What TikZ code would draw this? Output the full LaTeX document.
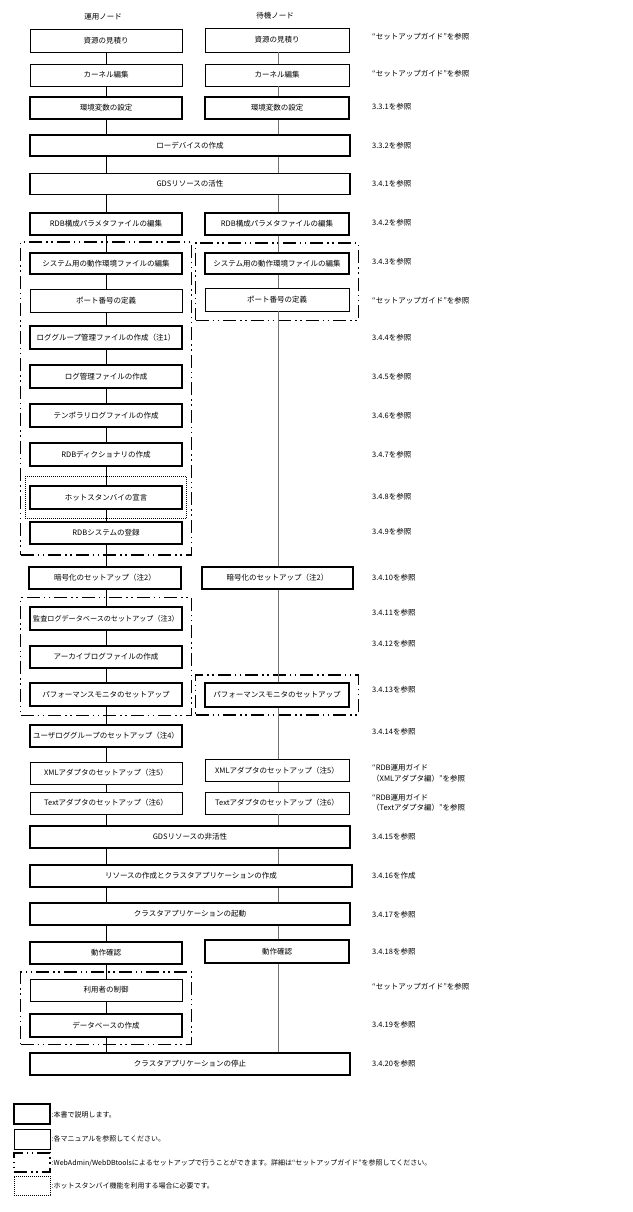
\documentclass[tikz,border=0pt]{standalone}
\usepackage{fontspec}
\setmainfont{Noto Sans CJK JP}
\usetikzlibrary{fit}
\begin{document}
\begin{tikzpicture}[x=1pt,y=-1pt,
  bx/.style={draw, fill=white, inner sep=0pt, minimum height=22pt,
    font=\fontsize{7.5}{9}\selectfont},
  tn/.style={bx, line width=0.8pt},
  tk/.style={bx, line width=1.6pt},
  lw/.style={minimum width=152pt},
  rw/.style={minimum width=144pt},
  ww/.style={minimum width=320pt},
  grp/.style={draw, line width=1.5pt, inner sep=0pt,
    dash pattern=on 13pt off 4pt on 1.5pt off 3.5pt on 1.5pt off 4pt},
  hsg/.style={draw, line width=0.8pt, inner sep=0pt, dash pattern=on 0.8pt off 1.2pt},
  lbl/.style={anchor=west, inner sep=0pt, font=\fontsize{7.5}{10.5}\selectfont, align=left},
  hdr/.style={inner sep=0pt, font=\fontsize{7.5}{9}\selectfont},
  lgt/.style={anchor=west, inner sep=0pt, font=\fontsize{7}{9}\selectfont},
  conn/.style={line width=0.8pt, black},
  connR/.style={line width=0.8pt, black!55},
]
\fill[white] (0,0) rectangle (632,1212);
\useasboundingbox (0,0) rectangle (632,1212);

\coordinate (colL) at (106,0);
\coordinate (colR) at (278,0);

% headers
\node[hdr] (hL) at (103,17) {運用ノード};
\node[hdr] (hR) at (275,16) {待機ノード};

% boxes
\node[tn, lw, minimum height=23pt] (srcL) at (106,40.5) {資源の見積り};
\node[tn, rw, minimum height=24pt] (srcR) at (277,40) {資源の見積り};
\node[tn, lw] (kerL) at (106,75) {カーネル編集};
\node[tn, rw] (kerR) at (277,75) {カーネル編集};
\node[tk, lw] (envL) at (106,108) {環境変数の設定};
\node[tk, rw] (envR) at (277,108) {環境変数の設定};
\node[tk, ww, minimum height=21pt] (raw) at (190,145.5) {ローデバイスの作成};
\node[tk, ww, minimum height=21pt] (gds) at (190,184) {GDSリソースの活性};
\node[tk, lw] (rdbL) at (106,224) {RDB構成パラメタファイルの編集};
\node[tk, rw] (rdbR) at (277,224) {RDB構成パラメタファイルの編集};
\node[tk, lw, minimum height=21pt] (sysL) at (106,263.5) {システム用の動作環境ファイルの編集};
\node[tk, rw, minimum height=21pt] (sysR) at (277,263.5) {システム用の動作環境ファイルの編集};
\node[tn, lw, minimum height=23pt] (portL) at (106,300.5) {ポート番号の定義};
\node[tn, rw, minimum height=23pt] (portR) at (277,299.5) {ポート番号の定義};
\node[tk, lw, minimum height=23pt] (lg) at (106,337.5) {ロググループ管理ファイルの作成（注1）};
\node[tk, lw, minimum height=23pt] (lm) at (106,376.5) {ログ管理ファイルの作成};
\node[tk, lw, minimum height=23pt] (tmp) at (106,415.5) {テンポラリログファイルの作成};
\node[tk, lw, minimum height=23pt] (dic) at (106,454.5) {RDBディクショナリの作成};
\node[tk, lw, minimum height=23pt] (hot) at (106,497.5) {ホットスタンバイの宣言};
\node[tk, lw] (rdbs) at (106,533) {RDBシステムの登録};
\node[tk, lw] (encL) at (105,578) {暗号化のセットアップ（注2）};
\node[tk, minimum width=151pt] (encR) at (277.5,578) {暗号化のセットアップ（注2）};
\node[tk, lw, minimum height=23pt, font=\fontsize{7.1}{9}\selectfont] (aud) at (106,618.5) {監査ログデータベースのセットアップ（注3）};
\node[tk, lw] (arc) at (106,657) {アーカイブログファイルの作成};
\node[tk, lw, minimum height=23pt] (perfL) at (106,694.5) {パフォーマンスモニタのセットアップ};
\node[tk, rw, minimum height=24pt] (perfR) at (277,695) {パフォーマンスモニタのセットアップ};
\node[tk, lw] (usr) at (106,736) {ユーザロググループのセットアップ（注4）};
\node[tn, lw] (xmlL) at (106,773) {XMLアダプタのセットアップ（注5）};
\node[tn, rw] (xmlR) at (277,770.5) {XMLアダプタのセットアップ（注5）};
\node[tn, lw] (txtL) at (106,803) {Textアダプタのセットアップ（注6）};
\node[tn, rw] (txtR) at (277,803) {Textアダプタのセットアップ（注6）};
\node[tk, ww] (gdsoff) at (190,837) {GDSリソースの非活性};
\node[tk, minimum width=322pt] (res) at (191,876) {リソースの作成とクラスタアプリケーションの作成};
\node[tk, ww] (start) at (190,914) {クラスタアプリケーションの起動};
\node[tk, lw] (chkL) at (106,953) {動作確認};
\node[tk, rw, minimum height=23pt] (chkR) at (277,951.5) {動作確認};
\node[tn, lw] (user) at (106,990) {利用者の制御};
\node[tk, lw, minimum height=23pt] (db) at (106,1025.5) {データベースの作成};
\node[tk, ww] (stop) at (190,1064) {クラスタアプリケーションの停止};

% groups
\node[grp, fit=(sysL)(rdbs), inner xsep=8.5pt, inner ysep=10pt] (g1) {};
\node[grp, fit=(sysR)(portR), inner xsep=8.5pt, inner ysep=9pt] (g2) {};
\node[hsg, fit=(hot), inner xsep=4pt, inner ysep=8.5pt] (g0) {};
\node[grp, fit=(aud)(perfL), inner xsep=8.5pt, inner ysep=8.5pt] (g3) {};
\node[grp, fit=(perfR), inner xsep=8.5pt, inner ysep=7pt] (g4) {};
\node[grp, fit=(user)(db), inner xsep=8.5pt, inner ysep=6.5pt] (g5) {};

% connectors
\foreach \a/\b in {srcL/kerL, kerL/envL, envL/raw, raw/gds, gds/rdbL, rdbL/sysL,
  sysL/portL, portL/lg, lg/lm, lm/tmp, tmp/dic, dic/hot, hot/rdbs, rdbs/encL,
  encL/aud, aud/arc, arc/perfL, perfL/usr, usr/xmlL, xmlL/txtL, txtL/gdsoff,
  gdsoff/res, res/start, start/chkL, chkL/user, user/db, db/stop}
  \draw[conn] (\a.south -| colL) -- (\b.north -| colL);
\foreach \a/\b in {srcR/kerR, kerR/envR, envR/raw, raw/gds, gds/rdbR, rdbR/sysR,
  sysR/portR, portR/encR, encR/perfR, perfR/xmlR, xmlR/txtR, txtR/gdsoff,
  gdsoff/res, res/start, start/chkR, chkR/stop}
  \draw[connR] (\a.south -| colR) -- (\b.north -| colR);

% reference labels
\node[lbl] (r1) at (372,37) {“セットアップガイド”を参照};
\node[lbl] (r2) at (372,74) {“セットアップガイド”を参照};
\node[lbl] (r3) at (372,107) {3.3.1を参照};
\node[lbl] (r4) at (372,145.5) {3.3.2を参照};
\node[lbl] (r5) at (372,184) {3.4.1を参照};
\node[lbl] (r6) at (372,223) {3.4.2を参照};
\node[lbl] (r7) at (372,262) {3.4.3を参照};
\node[lbl] (r8) at (372,300.5) {“セットアップガイド”を参照};
\node[lbl] (r9) at (372,338) {3.4.4を参照};
\node[lbl] (r10) at (372,377) {3.4.5を参照};
\node[lbl] (r11) at (372,415.5) {3.4.6を参照};
\node[lbl] (r12) at (372,455) {3.4.7を参照};
\node[lbl] (r13) at (372,497) {3.4.8を参照};
\node[lbl] (r14) at (372,531.5) {3.4.9を参照};
\node[lbl] (r15) at (372,577.5) {3.4.10を参照};
\node[lbl] (r16) at (372,612.5) {3.4.11を参照};
\node[lbl] (r17) at (372,643.5) {3.4.12を参照};
\node[lbl] (r18) at (372,690) {3.4.13を参照};
\node[lbl] (r19) at (372,731.5) {3.4.14を参照};
\node[lbl] (r20) at (372,773.5) {“RDB運用ガイド\\（XMLアダプタ編）”を参照};
\node[lbl] (r21) at (372,803) {“RDB運用ガイド\\（Textアダプタ編）”を参照};
\node[lbl] (r22) at (372,836.5) {3.4.15を参照};
\node[lbl] (r23) at (372,875.5) {3.4.16を作成};
\node[lbl] (r24) at (372,914.5) {3.4.17を参照};
\node[lbl] (r25) at (372,951.5) {3.4.18を参照};
\node[lbl] (r26) at (372,986.5) {“セットアップガイド”を参照};
\node[lbl] (r27) at (372,1024.5) {3.4.19を参照};
\node[lbl] (r28) at (372,1063.5) {3.4.20を参照};

% legend
\node[tk, minimum width=36pt, minimum height=20pt] (k1) at (32,1114) {};
\node[tn, minimum width=36pt, minimum height=20pt] (k2) at (32,1139) {};
\node[grp, minimum width=36pt, minimum height=19pt] (k3) at (32,1162.5) {};
\node[hsg, minimum width=36pt, minimum height=19pt] (k4) at (32,1185.5) {};
\node[lgt] (t1) at (51.5,1115) {:本書で説明します。};
\node[lgt] (t2) at (51.5,1139) {:各マニュアルを参照してください。};
\node[lgt] (t3) at (51.5,1163) {:WebAdmin/WebDBtoolsによるセットアップで行うことができます。詳細は“セットアップガイド”を参照してください。};
\node[lgt] (t4) at (51.5,1186) {:ホットスタンバイ機能を利用する場合に必要です。};
\end{tikzpicture}
\end{document}
